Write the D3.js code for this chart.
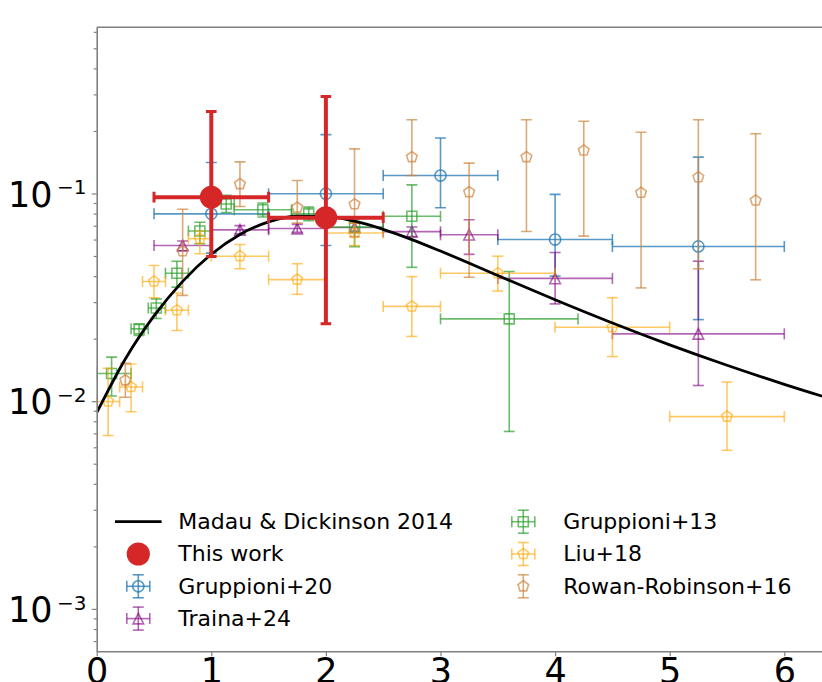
<!DOCTYPE html>
<html>
<head>
<meta charset="utf-8">
<script src="https://cdn.jsdelivr.net/npm/d3@7"></script>
<style>
  body { margin: 0; background: #fff; }
  svg { display: block; }
  text { font-family: "DejaVu Sans", "Liberation Sans", sans-serif; fill: #000; }
</style>
</head>
<body>
<svg id="chart" width="822" height="682"></svg>
<script>
// ---- Cosmic star-formation-rate density data (redshift z, rate) ----

// Madau & Dickinson 2014 model curve (sampled)
const mdZ   = [0, 0.25, 0.5, 0.75, 1, 1.25, 1.5, 1.75, 2, 2.25, 2.5, 2.75, 3, 3.5, 4, 4.5, 5, 5.5, 6, 6.5];
const mdPsi = [0.008801, 0.015974, 0.025727, 0.037749, 0.050973, 0.063480, 0.072955, 0.077736, 0.077564,
               0.073519, 0.067193, 0.059977, 0.052810, 0.040288, 0.030759, 0.023776, 0.018665, 0.014890,
               0.012055, 0.009892];

// This work
const twZ   = [1, 2];
const twZlo = [0.5, 1.5];
const twZhi = [1.5, 2.5];
const twVal = [0.096, 0.0765];
const twLo  = [0.0497, 0.0236];
const twHi  = [0.248, 0.293];

// Gruppioni+20
const g20Z   = [1, 2, 3, 4, 5.25];
const g20Zlo = [0.5, 1.5, 2.5, 3.5, 4.5];
const g20Zhi = [1.5, 2.5, 3.5, 4.5, 6.0];
const g20Val = [0.0798, 0.0997, 0.122, 0.060, 0.0556];
const g20Lo  = [0.0516, 0.0562, 0.0853, 0.040, 0.0247];
const g20Hi  = [0.141, 0.192, 0.185, 0.099, 0.1496];

// Traina+24
const t24Z   = [0.75, 1.25, 1.75, 2.25, 2.75, 3.25, 4.0, 5.25];
const t24Zlo = [0.5, 1.0, 1.5, 2.0, 2.5, 3.0, 3.5, 4.5];
const t24Zhi = [1.0, 1.5, 2.0, 2.5, 3.0, 3.5, 4.5, 6.0];
const t24Val = [0.0562, 0.0668, 0.0678, 0.0686, 0.0655, 0.0633, 0.0390, 0.0211];
const t24Lo  = [0.053, 0.064, 0.065, 0.066, 0.062, 0.0509, 0.0294, 0.0119];
const t24Hi  = [0.059, 0.070, 0.071, 0.072, 0.069, 0.0747, 0.052, 0.0472];

// Gruppioni+13
const g13Z   = [0.13, 0.37, 0.52, 0.70, 0.90, 1.13, 1.45, 1.85, 2.25, 2.75, 3.6];
const g13Zlo = [0.0, 0.3, 0.45, 0.6, 0.8, 1.0, 1.2, 1.7, 2.0, 2.5, 3.0];
const g13Zhi = [0.3, 0.45, 0.6, 0.8, 1.0, 1.2, 1.7, 2.0, 2.5, 3.0, 4.2];
const g13Val = [0.0136, 0.0223, 0.0281, 0.0413, 0.066, 0.089, 0.0835, 0.0798, 0.0689, 0.0777, 0.0249];
const g13Lo  = [0.0106, 0.0207, 0.025, 0.0354, 0.0573, 0.081, 0.077, 0.074, 0.0555, 0.0441, 0.00715];
const g13Hi  = [0.0163, 0.0234, 0.0311, 0.0472, 0.0727, 0.098, 0.090, 0.086, 0.075, 0.110, 0.0421];

// Liu+18
const l18Z   = [0.1, 0.3, 0.5, 0.7, 0.9, 1.25, 1.75, 2.25, 2.75, 3.5, 4.5, 5.5];
const l18Zlo = [0.0, 0.2, 0.4, 0.6, 0.8, 1.0, 1.5, 2.0, 2.5, 3.0, 4.0, 5.0];
const l18Zhi = [0.2, 0.4, 0.6, 0.8, 1.0, 1.5, 2.0, 2.5, 3.0, 4.0, 5.0, 6.0];
const l18Val = [0.00997, 0.0117, 0.0377, 0.0274, 0.0605, 0.0499, 0.0385, 0.0645, 0.0286, 0.0413, 0.0227, 0.00843];
const l18Lo  = [0.00684, 0.0089, 0.0315, 0.0219, 0.0513, 0.0434, 0.0327, 0.0562, 0.0205, 0.0339, 0.0164, 0.0058];
const l18Hi  = [0.0144, 0.0151, 0.045, 0.0332, 0.066, 0.0568, 0.0459, 0.072, 0.0398, 0.0499, 0.0315, 0.01236];

// Rowan-Robinson+16 (no redshift bin widths)
const rrZ   = [0.25, 0.75, 1.25, 1.75, 2.25, 2.75, 3.25, 3.75, 4.25, 4.75, 5.25, 5.75];
const rrVal = [0.0126, 0.0527, 0.111, 0.0855, 0.0887, 0.1496, 0.1015, 0.1496, 0.161, 0.1008, 0.1198, 0.0925];
const rrLo  = [0.01045, 0.0323, 0.0866, 0.072, 0.062, 0.122, 0.0395, 0.0656, 0.0623, 0.0351, 0.0434, 0.0384];
const rrHi  = [0.0152, 0.0840, 0.142, 0.1155, 0.164, 0.2265, 0.140, 0.2265, 0.2226, 0.197, 0.2265, 0.1938];

// Axis ticks
const xTicks = [0, 1, 2, 3, 4, 5, 6];
const yMajor = [1e-3, 1e-2, 1e-1];
const yMajorExp = ["−3", "−2", "−1"];

// ---- Layout ----
const svg = d3.select("#chart");
const plotLeft = 96.7, plotTop = 27.3, plotBottom = 651.3;
const pxPerZ = 114.6;

const x = d3.scaleLinear().domain([0, 6.5]).range([plotLeft, plotLeft + 6.5 * pxPerZ]);
const y = d3.scaleLog().domain([6.25e-4, 0.631]).range([plotBottom, plotTop]);

const spineColor = "#808080";

svg.append("defs").append("clipPath").attr("id", "plotclip")
  .append("rect").attr("x", plotLeft).attr("y", plotTop)
  .attr("width", x(6.5) - plotLeft).attr("height", plotBottom - plotTop);

const plot = svg.append("g").attr("clip-path", "url(#plotclip)");

// Marker shapes
function markerPath(shape, r) {
  if (shape === "square") return `M${-r},${-r}H${r}V${r}H${-r}Z`;
  if (shape === "triangle") return `M0,${-r}L${-r},${r}L${r},${r}Z`;
  if (shape === "pentagon") {
    const pts = d3.range(5).map(k => {
      const a = -Math.PI / 2 + k * 2 * Math.PI / 5;
      return [r * Math.cos(a), r * Math.sin(a)];
    });
    return "M" + pts.map(p => p.join(",")).join("L") + "Z";
  }
  // circle
  return `M${r},0A${r},${r} 0 1,1 ${-r},0A${r},${r} 0 1,1 ${r},0Z`;
}

const series = [
  { name: "Gruppioni+20", z: g20Z, zlo: g20Zlo, zhi: g20Zhi, val: g20Val, lo: g20Lo, hi: g20Hi,
    color: "#1f77b4", op: 0.75, shape: "circle", r: 5.6 },
  { name: "Traina+24", z: t24Z, zlo: t24Zlo, zhi: t24Zhi, val: t24Val, lo: t24Lo, hi: t24Hi,
    color: "#800080", op: 0.6, shape: "triangle", r: 5.3 },
  { name: "Gruppioni+13", z: g13Z, zlo: g13Zlo, zhi: g13Zhi, val: g13Val, lo: g13Lo, hi: g13Hi,
    color: "#2ca02c", op: 0.7, shape: "square", r: 5.0 },
  { name: "Liu+18", z: l18Z, zlo: l18Zlo, zhi: l18Zhi, val: l18Val, lo: l18Lo, hi: l18Hi,
    color: "#ffa500", op: 0.6, shape: "pentagon", r: 5.6 },
  { name: "Rowan-Robinson+16", z: rrZ, zlo: null, zhi: null, val: rrVal, lo: rrLo, hi: rrHi,
    color: "#cd853f", op: 0.7, shape: "pentagon", r: 5.6 }
];

const cap = 5.5;

function drawErrorbars(g, s, lw, capLen, capW) {
  const idx = d3.range(s.val.length);
  const sg = g.append("g").attr("class", "series")
    .attr("stroke", s.color).attr("fill", "none");
  idx.forEach(i => {
    const cx = x(s.z[i]), cy = y(s.val[i]);
    const pg = sg.append("g");
    if (s.zlo) {
      const x0 = x(s.zlo[i]), x1 = x(s.zhi[i]);
      pg.append("line").attr("x1", x0).attr("x2", x1).attr("y1", cy).attr("y2", cy)
        .attr("stroke-width", lw).attr("stroke-opacity", s.op);
      [x0, x1].forEach(xx => pg.append("line")
        .attr("x1", xx).attr("x2", xx).attr("y1", cy - capLen).attr("y2", cy + capLen)
        .attr("stroke-width", capW).attr("stroke-opacity", s.op));
    }
    const y0 = y(s.lo[i]), y1 = y(s.hi[i]);
    pg.append("line").attr("x1", cx).attr("x2", cx).attr("y1", y0).attr("y2", y1)
      .attr("stroke-width", lw).attr("stroke-opacity", s.op);
    [y0, y1].forEach(yy => pg.append("line")
      .attr("x1", cx - capLen).attr("x2", cx + capLen).attr("y1", yy).attr("y2", yy)
      .attr("stroke-width", capW).attr("stroke-opacity", s.op));
  });
  return sg;
}

series.forEach(s => {
  drawErrorbars(plot, s, 1.6, cap, 1.6);
  plot.append("g").selectAll("path").data(d3.range(s.val.length)).join("path")
    .attr("transform", i => `translate(${x(s.z[i])},${y(s.val[i])})`)
    .attr("d", markerPath(s.shape, s.r))
    .attr("fill", "none").attr("stroke", s.color)
    .attr("stroke-width", 1.6).attr("stroke-opacity", s.op);
});

// Madau & Dickinson curve
const mdLine = d3.line().x((d, i) => x(mdZ[i])).y((d, i) => y(mdPsi[i])).curve(d3.curveMonotoneX);
plot.append("path").datum(mdZ).attr("d", mdLine)
  .attr("fill", "none").attr("stroke", "#000").attr("stroke-width", 2.8);

// This work
const red = "#d62728";
drawErrorbars(plot, { z: twZ, zlo: twZlo, zhi: twZhi, val: twVal, lo: twLo, hi: twHi, color: red, op: 1 },
  4, 5.3, 3);
plot.append("g").selectAll("circle").data(d3.range(twVal.length)).join("circle")
  .attr("cx", i => x(twZ[i])).attr("cy", i => y(twVal[i])).attr("r", 11.4)
  .attr("fill", red);

// ---- Axes ----
const yMinor = [];
[-4, -3, -2, -1].forEach(e => {
  for (let m = 2; m <= 9; m++) {
    const v = m * Math.pow(10, e);
    if (v >= y.domain()[0] && v <= y.domain()[1]) yMinor.push(v);
  }
});

const yAxisMajor = svg.append("g").attr("transform", `translate(${plotLeft},0)`)
  .call(d3.axisLeft(y).tickValues(yMajor).tickSize(5).tickSizeOuter(0).tickFormat(""));
const yAxisMinor = svg.append("g").attr("transform", `translate(${plotLeft},0)`)
  .call(d3.axisLeft(y).tickValues(yMinor).tickSize(3).tickSizeOuter(0).tickFormat(""));
yAxisMinor.select(".domain").remove();
[yAxisMajor, yAxisMinor].forEach(a => {
  a.selectAll(".domain").attr("stroke", spineColor).attr("stroke-width", 1.6);
  a.selectAll(".tick line").attr("stroke", spineColor).attr("stroke-width", 1.2);
});

// y tick labels in 10^n form
yMajor.forEach((v, i) => {
  const t = svg.append("text").attr("x", 8).attr("y", y(v) + 13.3).style("font-size", "35px");
  t.append("tspan").text("10");
  t.append("tspan").attr("dx", 4.5).attr("dy", -12.5).style("font-size", "20px").text(yMajorExp[i]);
});

const xAxis = svg.append("g").attr("transform", `translate(0,${plotBottom})`)
  .call(d3.axisBottom(x).tickValues(xTicks).tickSize(5).tickSizeOuter(0).tickFormat(d3.format("d")));
xAxis.selectAll(".domain").attr("stroke", spineColor).attr("stroke-width", 1.6);
xAxis.selectAll(".tick line").attr("stroke", spineColor).attr("stroke-width", 1.2);
xAxis.selectAll(".tick text").attr("y", 7).attr("dy", "0.71em")
  .style("font-size", "35px").style("font-family", "DejaVu Sans").attr("fill", "#000");

// top spine
svg.append("line").attr("x1", plotLeft).attr("x2", x(6.5)).attr("y1", plotTop).attr("y2", plotTop)
  .attr("stroke", spineColor).attr("stroke-width", 1.6);

// ---- Legend ----
const legendRows = [521.7, 554.0, 586.3, 618.6];
const legendCols = [{ hx: 138.3, tx: 178.3 }, { hx: 523.3, tx: 563.3 }];
const lg = svg.append("g");

function legendText(col, row, label) {
  lg.append("text").attr("x", legendCols[col].tx).attr("y", legendRows[row] + 7.4)
    .style("font-size", "22px").text(label);
}

// model line
lg.append("line").attr("x1", legendCols[0].hx - 23.3).attr("x2", legendCols[0].hx + 23.3)
  .attr("y1", legendRows[0]).attr("y2", legendRows[0])
  .attr("stroke", "#000").attr("stroke-width", 2.8);
legendText(0, 0, "Madau & Dickinson 2014");

// this work
lg.append("circle").attr("cx", legendCols[0].hx).attr("cy", legendRows[1]).attr("r", 11.6).attr("fill", red);
legendText(0, 1, "This work");

const legendSlots = [[0, 2], [0, 3], [1, 0], [1, 1], [1, 2]];
series.forEach((s, k) => {
  const [col, row] = legendSlots[k];
  const cx = legendCols[col].hx, cy = legendRows[row];
  const g = lg.append("g").attr("stroke", s.color).attr("fill", "none").attr("stroke-width", 1.6)
    .attr("stroke-opacity", s.op);
  const h = 11.5;
  if (s.zlo) {
    g.append("line").attr("x1", cx - h).attr("x2", cx + h).attr("y1", cy).attr("y2", cy);
    [cx - h, cx + h].forEach(xx => g.append("line").attr("x1", xx).attr("x2", xx)
      .attr("y1", cy - cap).attr("y2", cy + cap));
  }
  g.append("line").attr("x1", cx).attr("x2", cx).attr("y1", cy - h).attr("y2", cy + h);
  [cy - h, cy + h].forEach(yy => g.append("line").attr("x1", cx - cap).attr("x2", cx + cap)
    .attr("y1", yy).attr("y2", yy));
  g.append("path").attr("transform", `translate(${cx},${cy})`).attr("d", markerPath(s.shape, s.r));
  legendText(col, row, s.name);
});
</script>
</body>
</html>
